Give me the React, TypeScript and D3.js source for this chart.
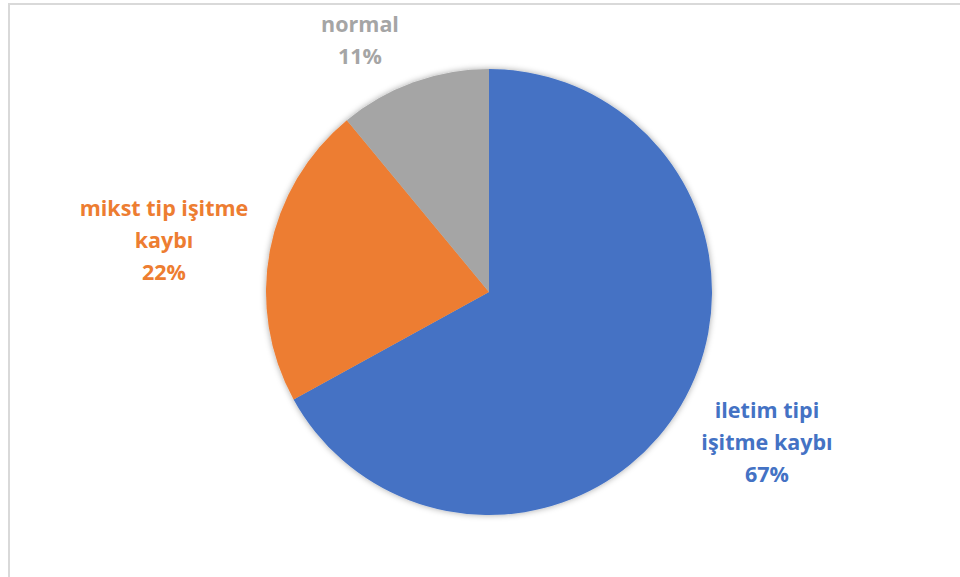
import React from "react";
import * as d3 from "d3";

const categories = ["iletim tipi işitme kaybı", "mikst tip işitme kaybı", "normal"];
const values = [67, 22, 11];
const labelLines = [["iletim tipi", "işitme kaybı", "67%"], ["mikst tip işitme", "kaybı", "22%"], ["normal", "11%"]];
const colors = ["#4472C4", "#ED7D31", "#A5A5A5"];

const W = 960, H = 577;
const cx = 489, cy = 292, R = 223;
const labelPos = [
  { x: 767, y: 418 },
  { x: 164, y: 216 },
  { x: 360, y: 32 },
];
const lineH = 32;

export default function App() {
  const pie = d3.pie<number>().sort(null).value((d) => d)(values);
  const arc = d3.arc<d3.PieArcDatum<number>>().innerRadius(0).outerRadius(R);
  return (
    <svg width={W} height={H} style={{ position: "absolute", left: 0, top: 0 }}>
      <defs>
        <filter id="sh" x="-20%" y="-20%" width="140%" height="140%">
          <feDropShadow dx="0" dy="0" stdDeviation="3" floodColor="#000" floodOpacity="0.35" />
        </filter>
      </defs>
      <rect x={0} y={0} width={W} height={H} fill="#fff" />
      <rect x={9} y={4} width={W + 20} height={H + 20} fill="#fff" stroke="#d9d9d9" strokeWidth={2} />
      <g transform={`translate(${cx},${cy})`} filter="url(#sh)">
        {pie.map((p, i) => (
          <path key={categories[i]} d={arc(p) || ""} fill={colors[i]} />
        ))}
      </g>
      {labelLines.map((lines, i) => (
        <text
          key={categories[i]}
          x={labelPos[i].x}
          y={labelPos[i].y}
          textAnchor="middle"
          fill={colors[i]}
          fontFamily="'Open Sans', sans-serif"
          fontWeight="bold"
          fontSize={21.5}
        >
          {lines.map((l, j) => (
            <tspan key={j} x={labelPos[i].x} dy={j === 0 ? 0 : lineH}>
              {l}
            </tspan>
          ))}
        </text>
      ))}
    </svg>
  );
}
